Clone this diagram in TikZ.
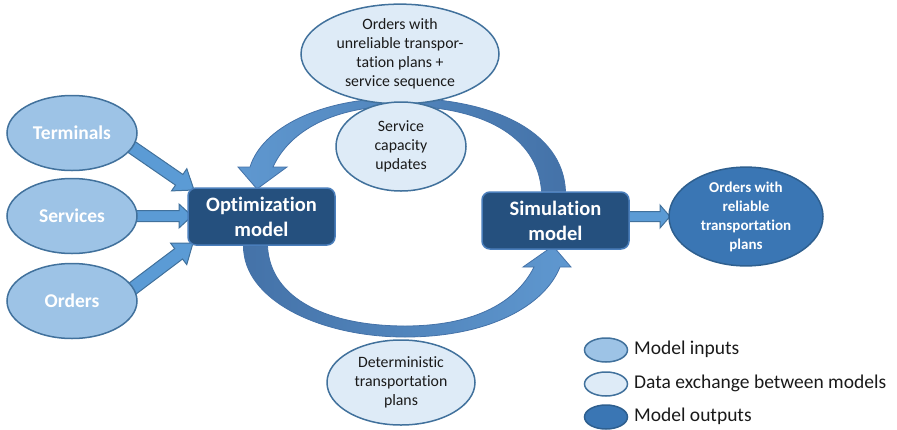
\documentclass[tikz,border=0pt]{standalone}
\usepackage{fontspec}
\setmainfont[Ligatures=NoCommon]{Carlito}
\usetikzlibrary{calc,backgrounds,shapes.geometric}
\definecolor{inputfill}{HTML}{9DC3E6}
\definecolor{inputdraw}{HTML}{41719C}
\definecolor{exfill}{HTML}{DEEBF7}
\definecolor{exdraw}{HTML}{41719C}
\definecolor{outfill}{HTML}{3A76B4}
\definecolor{outdraw}{HTML}{2E5F8F}
\definecolor{boxfill}{HTML}{25507E}
\definecolor{boxdraw}{HTML}{4A7EBB}
\definecolor{arrowfill}{HTML}{5B9BD5}
\definecolor{arrowdraw}{HTML}{41719C}
\definecolor{arcdark}{HTML}{4472A8}
\definecolor{arclight}{HTML}{5F98D0}
\definecolor{txt}{HTML}{1A1A1A}
\tikzset{
  inp/.style={ellipse, fill=inputfill, draw=inputdraw, line width=1.5pt, minimum width=130pt, minimum height=75pt, inner sep=0pt, text=white, font=\fontsize{19.5}{23}\selectfont\bfseries},
  exch/.style={ellipse, fill=exfill, draw=exdraw, line width=1.5pt, inner sep=0pt, text=txt, align=center, font=\fontsize{15.8}{19}\selectfont},
  outp/.style={ellipse, fill=outfill, draw=outdraw, line width=1.5pt, inner sep=0pt, text=white, align=center, font=\fontsize{15}{19}\selectfont\bfseries},
  modelbox/.style={rectangle, rounded corners=8pt, fill=boxfill, draw=boxdraw, line width=1.5pt, minimum width=147pt, minimum height=57pt, inner sep=0pt, text=white, align=center, font=\fontsize{20.5}{25}\selectfont\bfseries},
  blockarrow/.style={fill=arrowfill, draw=arrowdraw, line width=1pt, line join=miter},
  legendtext/.style={anchor=west, text=txt, inner sep=0pt, font=\fontsize{19.5}{23}\selectfont},
  legell/.style={ellipse, line width=1.5pt, minimum width=43pt, minimum height=24pt, inner sep=0pt},
  arcshape/.style={draw=arcdark, line width=0.8pt}
}
% #1 from, #2 to, #3 shaft half width, #4 head half width, #5 head length
\newcommand{\barrow}[5]{%
  \filldraw[blockarrow] ($(#1)!#3!90:(#2)$) -- ($(#2)!#5!(#1)!#3!90:(#2)$) -- ($(#2)!#5!(#1)!#4!90:(#2)$) -- (#2) -- ($(#2)!#5!(#1)!#4!-90:(#2)$) -- ($(#2)!#5!(#1)!#3!-90:(#2)$) -- ($(#1)!#3!-90:(#2)$) -- cycle;}
\begin{document}
\begin{tikzpicture}[x=1pt,y=-1pt]
\useasboundingbox (0,0) rectangle (897,429);
% nodes
\node[inp] (term) at (72,133) {Terminals};
\node[inp] (serv) at (72,216) {Services};
\node[inp] (ord) at (72,301) {Orders};
\node[modelbox] (opt) at (261.5,216.5) {Optimization\\model};
\node[modelbox] (sim) at (555.5,220.5) {Simulation\\model};
\node[outp, minimum width=154pt, minimum height=87pt] (out) at (746,216.5) {Orders with\\reliable\\transportation\\plans};
\node[exch, minimum width=198pt, minimum height=86pt] (ex1) at (400,54) {Orders with\\unreliable transpor-\\tation plans +\\service sequence};
\node[exch, minimum width=130pt, minimum height=89pt] (ex2) at (401,146.5) {Service\\capacity\\updates};
\node[exch, minimum width=148pt, minimum height=85pt] (ex3) at (401,382.5) {Deterministic\\transportation\\plans};
% legend
\node[legell, fill=inputfill, draw=inputdraw] (l1) at (606,350) {};
\node[legell, fill=exfill, draw=exdraw] (l2) at (606,384) {};
\node[legell, fill=outfill, draw=outdraw] (l3) at (606,417) {};
\node[legendtext] (lt1) at (634,349) {Model inputs};
\node[legendtext] (lt2) at (634,383) {Data exchange between models};
\node[legendtext] (lt3) at (634,416) {Model outputs};
% connectors
\coordinate (ts) at (120,139);
\coordinate (tt) at (194,190);
\coordinate (ss) at (125,216);
\coordinate (st) at (192,216);
\coordinate (os) at (120,298);
\coordinate (ot) at (193,243);
\coordinate (rs) at (615,216.5);
\coordinate (rt) at (670,216.5);
\coordinate (topend) at (257,189);
\coordinate (botend) at (553,246);
\begin{pgfonlayer}{background}
\barrow{ts}{tt}{6.5pt}{13.5pt}{18pt}
\barrow{ss}{st}{5.5pt}{12pt}{13pt}
\barrow{os}{ot}{6.5pt}{13.5pt}{18pt}
\barrow{rs}{rt}{5pt}{11.5pt}{10pt}
% top curved arrow: from simulation to optimization
\shadedraw[arcshape, left color=arclight, right color=arcdark]
  ($(sim.north)+(10,0)$) .. controls (563,130) and (490,98) .. (400,98)
  .. controls (320,98) and (262,128) .. (250,167)
  -- (238,167) -- (topend) -- (287,167) -- (273,167)
  .. controls (290,130) and (335,106) .. (400,106)
  .. controls (480,106) and (538,135) .. ($(sim.north)+(-14,0)$) -- cycle;
% bottom curved arrow: from optimization to simulation
\shadedraw[arcshape, left color=arcdark, right color=arclight]
  ($(opt.south)+(-18,0)$) .. controls (243,300) and (320,337) .. (405,337)
  .. controls (490,337) and (545,305) .. (560,267)
  -- (571,267) -- (botend) -- (523,267) -- (534,267)
  .. controls (515,305) and (470,326) .. (405,326)
  .. controls (330,326) and (270,300) .. ($(opt.south)+(6,0)$) -- cycle;
\end{pgfonlayer}
\end{tikzpicture}
\end{document}
